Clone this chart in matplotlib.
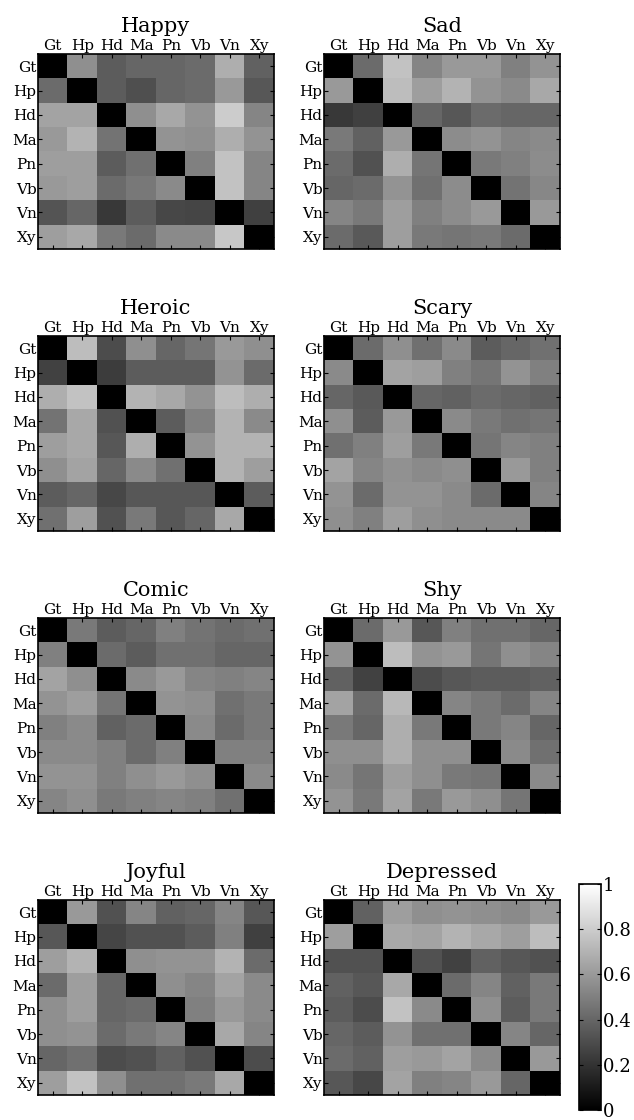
import matplotlib
matplotlib.use("Agg")
import matplotlib.pyplot as plt
import numpy as np

plt.rcParams['font.family'] = ['DejaVu Serif']

labels = ['Gt', 'Hp', 'Hd', 'Ma', 'Pn', 'Vb', 'Vn', 'Xy']
titles = ['Happy', 'Sad', 'Heroic', 'Scary', 'Comic', 'Shy', 'Joyful', 'Depressed']

happy = [
    [0.00, 0.56, 0.36, 0.40, 0.40, 0.42, 0.68, 0.38],
    [0.42, 0.00, 0.36, 0.31, 0.40, 0.42, 0.60, 0.34],
    [0.64, 0.64, 0.00, 0.56, 0.66, 0.58, 0.80, 0.52],
    [0.60, 0.70, 0.45, 0.00, 0.58, 0.56, 0.68, 0.58],
    [0.62, 0.62, 0.36, 0.44, 0.00, 0.50, 0.76, 0.52],
    [0.60, 0.62, 0.42, 0.47, 0.54, 0.00, 0.76, 0.52],
    [0.33, 0.40, 0.22, 0.36, 0.28, 0.27, 0.00, 0.25],
    [0.62, 0.66, 0.48, 0.42, 0.54, 0.54, 0.78, 0.00],
]
sad = [
    [0.00, 0.42, 0.76, 0.52, 0.60, 0.60, 0.50, 0.58],
    [0.60, 0.00, 0.74, 0.62, 0.70, 0.58, 0.54, 0.66],
    [0.22, 0.25, 0.00, 0.40, 0.34, 0.42, 0.40, 0.40],
    [0.48, 0.38, 0.60, 0.00, 0.55, 0.58, 0.52, 0.54],
    [0.42, 0.32, 0.68, 0.46, 0.00, 0.48, 0.50, 0.55],
    [0.40, 0.42, 0.58, 0.44, 0.55, 0.00, 0.45, 0.53],
    [0.52, 0.48, 0.62, 0.50, 0.55, 0.60, 0.00, 0.60],
    [0.42, 0.35, 0.62, 0.48, 0.46, 0.48, 0.42, 0.00],
]
heroic = [
    [0.00, 0.74, 0.30, 0.56, 0.40, 0.46, 0.60, 0.56],
    [0.26, 0.00, 0.24, 0.36, 0.36, 0.36, 0.58, 0.42],
    [0.68, 0.76, 0.00, 0.70, 0.66, 0.58, 0.74, 0.68],
    [0.45, 0.66, 0.32, 0.00, 0.36, 0.50, 0.70, 0.54],
    [0.62, 0.66, 0.34, 0.68, 0.00, 0.58, 0.70, 0.70],
    [0.56, 0.64, 0.40, 0.54, 0.44, 0.00, 0.70, 0.62],
    [0.36, 0.40, 0.28, 0.34, 0.34, 0.34, 0.00, 0.36],
    [0.44, 0.62, 0.32, 0.48, 0.34, 0.40, 0.66, 0.00],
]
scary = [
    [0.00, 0.42, 0.56, 0.44, 0.54, 0.36, 0.40, 0.44],
    [0.54, 0.00, 0.64, 0.62, 0.50, 0.46, 0.58, 0.50],
    [0.40, 0.35, 0.00, 0.40, 0.38, 0.42, 0.40, 0.38],
    [0.56, 0.36, 0.60, 0.00, 0.54, 0.48, 0.44, 0.46],
    [0.44, 0.50, 0.62, 0.48, 0.00, 0.46, 0.52, 0.50],
    [0.64, 0.52, 0.57, 0.54, 0.56, 0.00, 0.60, 0.50],
    [0.58, 0.42, 0.58, 0.58, 0.54, 0.42, 0.00, 0.52],
    [0.56, 0.50, 0.62, 0.56, 0.54, 0.54, 0.54, 0.00],
]
comic = [
    [0.00, 0.48, 0.36, 0.40, 0.50, 0.45, 0.42, 0.44],
    [0.50, 0.00, 0.42, 0.36, 0.44, 0.44, 0.40, 0.40],
    [0.64, 0.56, 0.00, 0.54, 0.60, 0.52, 0.50, 0.52],
    [0.58, 0.62, 0.46, 0.00, 0.58, 0.56, 0.44, 0.48],
    [0.50, 0.54, 0.38, 0.42, 0.00, 0.54, 0.42, 0.48],
    [0.54, 0.54, 0.50, 0.42, 0.50, 0.00, 0.50, 0.50],
    [0.58, 0.58, 0.50, 0.56, 0.60, 0.56, 0.00, 0.54],
    [0.52, 0.56, 0.48, 0.50, 0.52, 0.50, 0.44, 0.00],
]
shy = [
    [0.00, 0.42, 0.60, 0.34, 0.50, 0.44, 0.44, 0.40],
    [0.58, 0.00, 0.74, 0.58, 0.60, 0.46, 0.56, 0.52],
    [0.38, 0.26, 0.00, 0.30, 0.34, 0.36, 0.36, 0.38],
    [0.64, 0.42, 0.72, 0.00, 0.52, 0.48, 0.42, 0.52],
    [0.48, 0.40, 0.68, 0.48, 0.00, 0.48, 0.52, 0.40],
    [0.56, 0.56, 0.68, 0.56, 0.56, 0.00, 0.54, 0.44],
    [0.54, 0.46, 0.62, 0.56, 0.48, 0.46, 0.00, 0.54],
    [0.58, 0.48, 0.64, 0.48, 0.60, 0.56, 0.46, 0.00],
]
joyful = [
    [0.00, 0.60, 0.32, 0.52, 0.38, 0.40, 0.52, 0.34],
    [0.34, 0.00, 0.27, 0.32, 0.32, 0.36, 0.50, 0.25],
    [0.62, 0.70, 0.00, 0.56, 0.58, 0.58, 0.70, 0.42],
    [0.42, 0.62, 0.40, 0.00, 0.56, 0.52, 0.64, 0.54],
    [0.56, 0.62, 0.40, 0.42, 0.00, 0.50, 0.60, 0.54],
    [0.56, 0.58, 0.42, 0.48, 0.52, 0.00, 0.66, 0.52],
    [0.40, 0.44, 0.30, 0.32, 0.38, 0.32, 0.00, 0.30],
    [0.62, 0.76, 0.56, 0.44, 0.44, 0.48, 0.66, 0.00],
]
depressed = [
    [0.00, 0.38, 0.62, 0.56, 0.58, 0.56, 0.54, 0.60],
    [0.62, 0.00, 0.66, 0.64, 0.70, 0.66, 0.62, 0.74],
    [0.32, 0.32, 0.00, 0.32, 0.26, 0.38, 0.34, 0.32],
    [0.38, 0.34, 0.66, 0.00, 0.42, 0.52, 0.38, 0.48],
    [0.36, 0.30, 0.76, 0.54, 0.00, 0.56, 0.36, 0.48],
    [0.40, 0.36, 0.58, 0.44, 0.44, 0.00, 0.52, 0.40],
    [0.42, 0.38, 0.62, 0.60, 0.64, 0.54, 0.00, 0.60],
    [0.34, 0.28, 0.64, 0.50, 0.52, 0.60, 0.40, 0.00],
]
matrices = [happy, sad, heroic, scary, comic, shy, joyful, depressed]

W, H = 634, 1120
fig = plt.figure(figsize=(W / 100, H / 100), dpi=100)

col_x = [38, 324]
row_top = [54, 336, 618, 900]
aw, ah = 236, 195

for i, (name, m) in enumerate(zip(titles, matrices)):
    r, c = divmod(i, 2)
    ax = fig.add_axes([col_x[c] / W, (H - row_top[r] - ah) / H, aw / W, ah / H])
    im = ax.imshow(np.array(m), cmap='gray', vmin=0, vmax=1,
                   aspect='auto', interpolation='nearest')
    ax.set_xticks(range(8))
    ax.set_yticks(range(8))
    ax.set_xticklabels(labels)
    ax.set_yticklabels(labels)
    ax.tick_params(direction='in', length=3, width=0.8, pad=1,
                   top=True, bottom=True, left=True, right=True,
                   labeltop=True, labelbottom=False, labelsize=11)
    for s in ax.spines.values():
        s.set_linewidth(1.2)
    ax.set_title(name, fontsize=15, pad=5)

cax = fig.add_axes([579 / W, (H - 1110) / H, 22 / W, 226 / H])
cb = fig.colorbar(im, cax=cax, ticks=[0, 0.2, 0.4, 0.6, 0.8, 1])
cb.set_ticklabels(['0', '0.2', '0.4', '0.6', '0.8', '1'])
cax.tick_params(direction='in', length=3, labelsize=13, pad=1,
                left=True, right=True)
cb.outline.set_linewidth(1.2)

fig.savefig('out.png', dpi=100)
